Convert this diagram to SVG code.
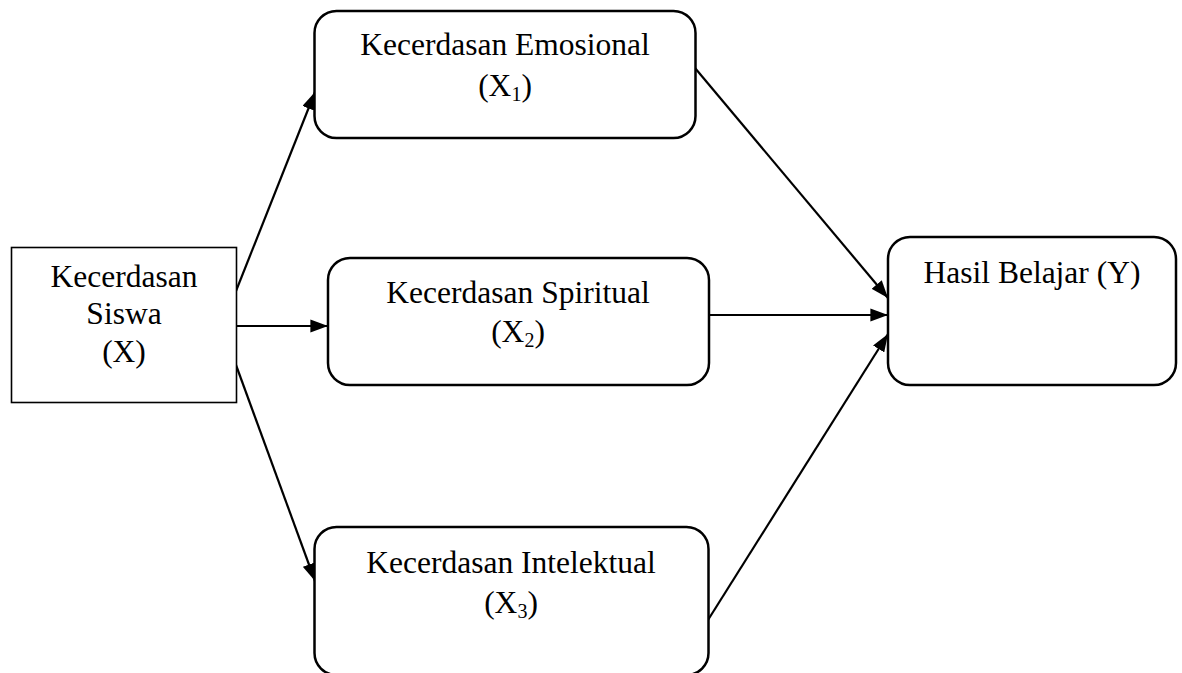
<svg xmlns="http://www.w3.org/2000/svg" width="1182" height="673" viewBox="0 0 1182 673">
<defs>
<style>
.box{fill:#fff;stroke:#000;stroke-width:2.5}
.sq{fill:#fff;stroke:#000;stroke-width:1.6}
.t{font-family:"Liberation Serif","Times New Roman",serif;font-size:31.5px;fill:#000;text-anchor:middle}
.sub{font-size:20px}
.c{stroke:#000;stroke-width:2.2;fill:none;marker-end:url(#ah)}
</style>
<marker id="ah" markerWidth="8" markerHeight="6" refX="8" refY="3" orient="auto" markerUnits="strokeWidth">
<path d="M0,0 L8,3 L0,6 Z" fill="#000"/>
</marker>
</defs>
<rect width="1182" height="673" fill="#fff"/>
<g id="connectors">
<line class="c" x1="236" y1="291" x2="315" y2="92"/>
<line class="c" x1="236" y1="326" x2="328" y2="326"/>
<line class="c" x1="236" y1="365" x2="315" y2="581"/>
<line class="c" x1="695" y1="68" x2="888" y2="298"/>
<line class="c" x1="709" y1="315" x2="888" y2="315"/>
<line class="c" x1="708" y1="620" x2="888" y2="334"/>
</g>
<g id="node-x">
<rect class="sq" x="11.5" y="247.5" width="225" height="155"/>
<text class="t" x="124" y="287">Kecerdasan</text>
<text class="t" x="124" y="324">Siswa</text>
<text class="t" x="124" y="362">(X)</text>
</g>
<g id="node-x1">
<rect class="box" x="314.5" y="11" width="381" height="127" rx="22" ry="22"/>
<text class="t" x="505" y="55">Kecerdasan Emosional</text>
<text class="t" x="505" y="96">(X<tspan class="sub" dy="5">1</tspan><tspan dy="-5">)</tspan></text>
</g>
<g id="node-x2">
<rect class="box" x="328" y="258" width="381" height="127" rx="22" ry="22"/>
<text class="t" x="518" y="303">Kecerdasan Spiritual</text>
<text class="t" x="518" y="342">(X<tspan class="sub" dy="5">2</tspan><tspan dy="-5">)</tspan></text>
</g>
<g id="node-x3">
<rect class="box" x="314.5" y="527" width="394" height="148" rx="22" ry="22"/>
<text class="t" x="511" y="573">Kecerdasan Intelektual</text>
<text class="t" x="511" y="613">(X<tspan class="sub" dy="5">3</tspan><tspan dy="-5">)</tspan></text>
</g>
<g id="node-y">
<rect class="box" x="888" y="237" width="288" height="148" rx="22" ry="22"/>
<text class="t" x="1032" y="283">Hasil Belajar (Y)</text>
</g>
</svg>
